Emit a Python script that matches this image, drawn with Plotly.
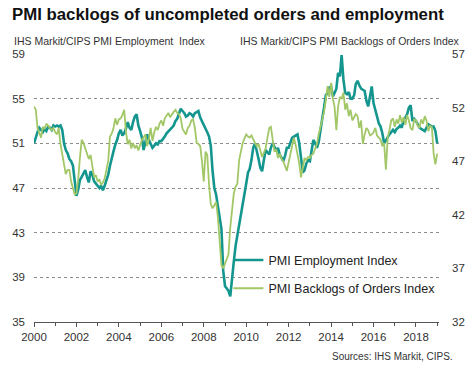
import plotly.graph_objects as go
import pandas as pd

# Monthly observations, Jan 2000 .. Jan 2019
months = pd.date_range("2000-01-01", "2019-01-01", freq="MS")

employment = [
    51.0, 51.6, 52.0, 52.4, 52.2, 52.0, 52.3, 52.1, 52.5, 52.4, 52.2, 52.6,  # 2000
    52.5, 52.6, 52.5, 52.6, 52.2, 51.0, 50.4, 50.1, 49.6, 49.4, 49.0, 47.8,  # 2001
    46.3, 46.9, 47.7, 48.0, 48.3, 48.6, 48.0, 47.5, 48.5, 48.2, 47.6, 47.4,  # 2002
    47.3, 47.0, 47.2, 46.8, 47.2, 47.7, 48.2, 49.0, 49.8, 50.3, 50.9, 51.3,  # 2003
    51.9, 52.2, 51.7, 51.9, 52.3, 52.9, 52.4, 52.2, 52.9, 53.4, 53.6, 52.6,  # 2004
    52.1, 51.5, 50.4, 51.0, 51.8, 51.3, 50.9, 50.6, 50.8, 51.0, 50.9, 51.2,  # 2005
    51.2, 51.4, 51.6, 51.9, 52.1, 52.3, 52.4, 52.6, 53.0, 53.2, 53.6, 54.1,  # 2006
    53.9, 53.7, 53.4, 53.5, 53.7, 53.6, 53.4, 53.7, 53.8, 53.9, 53.3, 53.0,  # 2007
    52.7, 52.4, 52.0, 51.6, 50.8, 48.5, 47.0, 46.4, 45.4, 44.5, 43.3, 39.6,  # 2008
    38.2, 38.0, 37.8, 37.3, 38.6, 40.4, 41.8, 42.7, 43.9, 44.5, 45.5, 46.2,  # 2009
    47.4, 48.4, 48.7, 49.5, 50.6, 51.0, 50.4, 49.6, 48.8, 48.5, 49.5, 50.4,  # 2010
    50.2, 50.0, 50.6, 51.0, 50.7, 50.3, 50.6, 50.0, 49.7, 49.4, 49.9, 50.6,  # 2011
    50.6, 51.1, 51.5, 51.6, 51.7, 51.8, 51.0, 49.9, 48.4, 48.6, 49.2, 49.5,  # 2012
    49.4, 50.4, 51.3, 51.0, 50.6, 51.1, 52.4, 53.2, 54.2, 55.3, 55.5, 56.0,  # 2013
    56.1, 55.2, 55.5, 55.9, 57.3, 57.0, 58.9, 56.7, 55.5, 55.4, 55.6, 55.0,  # 2014
    55.0, 55.3, 56.3, 56.6, 56.2, 55.9, 55.8, 55.7, 54.8, 54.3, 55.2, 56.1,  # 2015
    54.6, 54.0, 53.4, 52.8, 52.5, 51.9, 51.0, 51.3, 51.6, 51.8, 52.0, 52.2,  # 2016
    52.0, 52.3, 52.4, 52.6, 52.4, 53.1, 53.3, 53.6, 54.2, 54.4, 53.0, 53.2,  # 2017
    53.0, 52.6, 52.4, 52.3, 52.2, 52.1, 52.4, 52.7, 52.6, 52.5, 52.5, 52.1,  # 2018
    51.0,                                                                    # 2019
]

backlogs = [
    52.1, 51.8, 50.1, 49.7, 49.2, 50.2, 50.0, 50.5, 50.3, 50.2, 49.9, 50.1,  # 2000
    49.7, 49.5, 50.1, 48.6, 47.6, 46.9, 45.8, 46.2, 46.2, 45.1, 44.4, 43.9,  # 2001
    44.0, 45.4, 47.3, 49.0, 48.7, 48.2, 47.9, 47.2, 47.6, 46.4, 45.5, 45.7,  # 2002
    45.1, 45.3, 44.8, 45.0, 45.4, 46.2, 47.0, 49.3, 49.6, 50.1, 51.0, 50.4,  # 2003
    50.9, 51.0, 51.3, 51.8, 49.8, 48.6, 49.0, 48.2, 48.7, 48.2, 48.5, 48.0,  # 2004
    48.5, 49.0, 49.2, 49.5, 48.4, 49.1, 50.1, 48.9, 49.7, 50.2, 49.9, 50.5,  # 2005
    50.8, 50.3, 51.0, 51.2, 51.5, 51.1, 51.4, 51.6, 51.8, 51.5, 51.4, 51.0,  # 2006
    50.0, 49.7, 49.5, 50.1, 50.3, 50.8, 50.9, 50.1, 48.7, 48.6, 48.4, 47.0,  # 2007
    45.1, 47.9, 47.6, 44.8, 43.0, 42.6, 42.9, 43.2, 41.7, 39.8, 37.3, 37.0,  # 2008
    37.5, 38.0, 38.3, 40.8, 42.7, 44.0, 44.6, 44.9, 47.1, 48.0, 48.7, 49.1,  # 2009
    49.5, 49.3, 49.2, 49.4, 49.0, 48.7, 48.4, 48.6, 48.0, 47.4, 47.8, 48.2,  # 2010
    49.2, 50.1, 50.2, 48.9, 47.9, 48.1, 47.3, 47.7, 47.2, 47.0, 46.6, 46.1,  # 2011
    46.9, 47.8, 48.6, 49.2, 48.5, 47.7, 46.8, 45.5, 46.6, 47.3, 47.1, 47.4,  # 2012
    47.3, 47.6, 47.7, 48.1, 48.6, 49.5, 50.1, 50.8, 51.6, 52.7, 54.0, 53.0,  # 2013
    54.3, 52.8, 52.1, 49.9, 52.1, 53.0, 52.8, 53.4, 51.8, 52.4, 51.2, 51.8,  # 2014
    50.8, 51.1, 51.4, 51.2, 50.1, 50.8, 48.6, 49.5, 50.1, 49.9, 49.4, 49.5,  # 2015
    49.7, 50.1, 49.4, 49.2, 49.0, 48.4, 48.7, 46.2, 49.2, 49.9, 50.8, 51.0,  # 2016
    50.2, 50.9, 50.5, 51.3, 50.6, 51.1, 50.4, 51.3, 50.8, 50.1, 49.9, 50.9,  # 2017
    50.8, 50.3, 50.1, 50.9, 50.5, 51.2, 50.8, 49.8, 50.3, 50.2, 47.7, 46.7,  # 2018
    47.7,                                                                    # 2019
]

left_ticks = [35, 39, 43, 47, 51, 55, 59]
right_ticks = [32, 37, 42, 47, 52, 57]

TEAL = "#14968f"
GREEN = "#a2c766"
FONT = "Liberation Sans, Arial, sans-serif"
TXT = "#333333"

fig = go.Figure()
fig.add_trace(go.Scatter(
    x=months, y=employment, name="PMI Employment Index", mode="lines",
    line=dict(color=TEAL, width=2.6), yaxis="y", legendgroup="a",
))
fig.add_trace(go.Scatter(
    x=months, y=backlogs, name="PMI Backlogs of Orders Index", mode="lines",
    line=dict(color=GREEN, width=1.8), yaxis="y2", legendgroup="b",
))

fig.update_layout(
    width=472, height=374,
    margin=dict(l=34, r=33, t=54, b=51.5, autoexpand=False),
    paper_bgcolor="white", plot_bgcolor="white",
    font=dict(family=FONT, size=11, color=TXT),
    showlegend=True,
    legend=dict(
        x=0.48, y=0.286, xanchor="left", yanchor="top",
        bgcolor="rgba(0,0,0,0)", font=dict(size=12.5, color="#222"),
        tracegroupgap=9, traceorder="grouped", itemwidth=30,
    ),
    xaxis=dict(
        type="date",
        range=["2000-01-01", "2019-02-01"],
        tickformat="%Y", dtick="M24", tick0="2000-01-01",
        ticks="outside", ticklen=4, tickcolor="#555", tickwidth=1,
        minor=dict(dtick="M12", ticks="outside", ticklen=3, tickcolor="#555", showgrid=False),
        showline=True, linecolor="#555", linewidth=1,
        showgrid=False, zeroline=False,
        tickfont=dict(size=11.5, color=TXT),
    ),
    yaxis=dict(
        range=[35, 59], tickvals=left_ticks, ticktext=[str(v) for v in left_ticks],
        showgrid=True, gridcolor="#8c8c8c", gridwidth=1, griddash="dot",
        zeroline=False, showline=False, ticks="", ticklabelstandoff=8,
        tickfont=dict(size=11.5, color=TXT),
    ),
    yaxis2=dict(
        range=[32, 57], tickvals=right_ticks, ticktext=[str(v) for v in right_ticks],
        overlaying="y", side="right", showgrid=False, zeroline=False,
        showline=False, ticks="", ticklabelstandoff=12,
        tickfont=dict(size=11.5, color=TXT),
    ),
    annotations=[
        dict(text="<b>PMI backlogs of uncompleted orders and employment</b>",
             xref="paper", yref="paper", x=-0.06, y=1.0, xanchor="left", yanchor="bottom",
             yshift=28, showarrow=False, font=dict(size=16.8, color="#111", family=FONT)),
        dict(text="IHS Markit/CIPS PMI Employment  Index",
             xref="paper", yref="paper", x=-0.055, y=1.0, xanchor="left", yanchor="bottom",
             yshift=5, showarrow=False, font=dict(size=10.5, color=TXT)),
        dict(text="IHS Markit/CIPS PMI Backlogs of Orders Index",
             xref="paper", yref="paper", x=1.057, y=1.0, xanchor="right", yanchor="bottom",
             yshift=5, showarrow=False, font=dict(size=10.5, color=TXT)),
        dict(text="Sources: IHS Markit, CIPS.",
             xref="paper", yref="paper", x=1.04, y=0, xanchor="right", yanchor="top",
             yshift=-27, showarrow=False, font=dict(size=10, color=TXT)),
    ],
)

fig.write_html("out.html", config={"displayModeBar": False},
               post_script="document.body.style.margin='0';")
